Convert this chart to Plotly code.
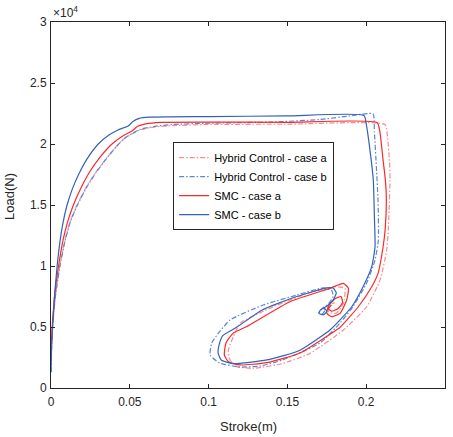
import plotly.graph_objects as go

# ---- data (x: stroke in m, y: load in N) ----
x_hyb_a = [0.0, 0.0003, 0.001, 0.0028, 0.0055, 0.0088, 0.0123, 0.0165, 0.0225, 0.0285, 0.035, 0.0415, 0.047,
           0.0565, 0.066, 0.077, 0.10, 0.15, 0.212, 0.2135, 0.2148, 0.2151, 0.2145, 0.214, 0.213, 0.2088,
           0.2003, 0.1855, 0.1643, 0.1474, 0.1284, 0.118, 0.1136, 0.1125, 0.1157, 0.12, 0.141, 0.1664, 0.181,
           0.1865, 0.1855, 0.181, 0.176, 0.177, 0.180]
y_hyb_a = [2000, 3500, 5000, 7500, 10000, 12100, 13700, 15000, 16500, 17700, 18800, 19800, 20500,
           21150, 21400, 21500, 21600, 21620, 21600, 20600, 18500, 17056, 14500, 12950, 11300, 8860,
           6660, 4750, 2840, 2020, 1610, 1750, 2300, 3110, 4200, 5300, 6660, 7900, 8300,
           8170, 6940, 6120, 6250, 6800, 7000]

x_hyb_b = [0.0, 0.0003, 0.001, 0.0028, 0.0057, 0.009, 0.0125, 0.0168, 0.0228, 0.0288, 0.0352, 0.0415, 0.047,
           0.0565, 0.066, 0.077, 0.10, 0.14, 0.17, 0.19, 0.2043, 0.2052, 0.2065, 0.2075, 0.2077, 0.2056,
           0.2003, 0.1916, 0.1834, 0.1707, 0.147, 0.1326, 0.12, 0.107, 0.101, 0.102, 0.107, 0.1136, 0.1346,
           0.156, 0.1726, 0.178, 0.179, 0.176, 0.172, 0.170, 0.172, 0.174, 0.172]
y_hyb_b = [1300, 3000, 5000, 7500, 10000, 12100, 13700, 15000, 16500, 17700, 18800, 19800, 20500,
           21200, 21450, 21600, 21700, 21800, 22000, 22300, 22470, 21000, 18000, 15400, 12100, 10500,
           8600, 6660, 5330, 3690, 2300, 1800, 1720, 2050, 2700, 3690, 4620, 5580, 6800,
           7620, 8200, 8030, 7500, 6900, 6500, 6200, 6050, 6400, 6600]

x_smc_a = [0.0, 0.0003, 0.001, 0.0025, 0.0048, 0.0076, 0.0105, 0.0142, 0.019, 0.024, 0.031, 0.0387, 0.046,
           0.0514, 0.055, 0.060, 0.07, 0.10, 0.15, 0.207, 0.2088, 0.2107, 0.2122, 0.2128, 0.212, 0.2107,
           0.2075, 0.2035, 0.195, 0.183, 0.181, 0.158, 0.137, 0.12, 0.1125, 0.110, 0.111, 0.1156, 0.124,
           0.1516, 0.177, 0.1855, 0.1887, 0.1876, 0.1834, 0.178, 0.175, 0.176, 0.180, 0.184, 0.185, 0.182,
           0.178, 0.176, 0.178]
y_smc_a = [2500, 4000, 5500, 7800, 10000, 12100, 13600, 15000, 16400, 17600, 18900, 20000, 20700,
           21070, 21450, 21650, 21780, 21800, 21780, 21750, 20900, 18700, 17000, 15400, 12950, 11560,
           9400, 8300, 6660, 4920, 4750, 2870, 2080, 1890, 2160, 2700, 3690, 4500, 5020,
           7070, 8170, 8580, 8170, 7210, 6120, 5850, 6120, 6700, 7300, 7500, 7000, 6500,
           6300, 6500, 6800]

x_smc_b = [0.0, 0.0003, 0.001, 0.0022, 0.0039, 0.0058, 0.0077, 0.0102, 0.0135, 0.0175, 0.023, 0.030, 0.037,
           0.0425, 0.049, 0.052, 0.056, 0.062, 0.10, 0.15, 0.1986, 0.2003, 0.2024, 0.2045, 0.2052, 0.2056,
           0.2035, 0.198, 0.1908, 0.1834, 0.177, 0.158, 0.137, 0.1156, 0.108, 0.106, 0.107, 0.109, 0.118,
           0.134, 0.156, 0.175, 0.179, 0.181, 0.179, 0.175, 0.171, 0.170, 0.173, 0.175, 0.173]
y_smc_b = [1300, 3000, 5000, 7500, 10000, 12100, 13600, 15000, 16300, 17500, 18800, 20000, 20750,
           21150, 21480, 21850, 22100, 22200, 22250, 22300, 22330, 21430, 19500, 17056, 14000, 11590,
           9950, 8300, 6660, 5580, 4750, 3100, 2300, 2000, 2300, 2900, 3700, 4300, 5000,
           6400, 7500, 8200, 8200, 7800, 7200, 6700, 6400, 6100, 6000, 6300, 6600]

x_ticks = [0, 0.05, 0.1, 0.15, 0.2, 0.25]
x_tick_text = ["0", "0.05", "0.1", "0.15", "0.2", "0.25"]
y_ticks = [0, 5000, 10000, 15000, 20000, 25000, 30000]
y_tick_text = ["0", "0.5", "1", "1.5", "2", "2.5", "3"]

series = [
    ("Hybrid Control - case a", x_hyb_a, y_hyb_a, "#FF8A8A", "5px,2px,1.5px,2px"),
    ("Hybrid Control - case b", x_hyb_b, y_hyb_b, "#5A86D6", "5px,2px,1.5px,2px"),
    ("SMC - case a", x_smc_a, y_smc_a, "#F52A2A", "solid"),
    ("SMC - case b", x_smc_b, y_smc_b, "#3461B5", "solid"),
]

fig = go.Figure()
for name, xs, ys, col, dash in series:
    fig.add_trace(go.Scatter(x=xs, y=ys, mode="lines", name=name,
                             line=dict(color=col, width=1.2, dash=dash, shape="spline", smoothing=0.5)))

axis_common = dict(showline=True, linecolor="#262626", linewidth=1, mirror="allticks",
                   ticks="inside", ticklen=4, tickcolor="#262626", showgrid=False, zeroline=False,
                   automargin=False,
                   tickfont=dict(family="Liberation Sans, Arial", size=12, color="#262626"))

fig.update_layout(
    width=453, height=437,
    margin=dict(l=51, r=8, t=22, b=49, autoexpand=False),
    paper_bgcolor="white", plot_bgcolor="white",
    font=dict(family="Liberation Sans, Arial", color="#262626"),
    xaxis=dict(range=[0, 0.25], tickvals=x_ticks, ticktext=x_tick_text, ticklabelstandoff=3, **axis_common),
    yaxis=dict(range=[0, 30000], tickvals=y_ticks, ticktext=y_tick_text, ticklabelstandoff=1, **axis_common),
    legend=dict(x=0.31, y=0.672, xanchor="left", yanchor="top", bgcolor="white",
                bordercolor="#262626", borderwidth=1, font=dict(size=11, color="#000"),
                tracegroupgap=0, itemwidth=30),
    showlegend=True,
    annotations=[
        dict(text="×10<sup>4</sup>", xref="paper", yref="paper", x=0, y=1,
             xanchor="left", yanchor="bottom", showarrow=False,
             font=dict(size=12, color="#262626")),
        dict(text="Stroke(m)", xref="paper", yref="paper", x=0.5, y=-0.104,
             xanchor="center", yanchor="middle", showarrow=False,
             font=dict(size=13, color="#262626")),
        dict(text="Load(N)", xref="paper", yref="paper", x=-0.104, y=0.522, textangle=-90,
             xanchor="center", yanchor="middle", showarrow=False,
             font=dict(size=13, color="#262626")),
    ],
)

fig.write_html("out.html", config={"displayModeBar": False},
               post_script="document.body.style.margin='0';document.body.style.overflow='hidden';")
